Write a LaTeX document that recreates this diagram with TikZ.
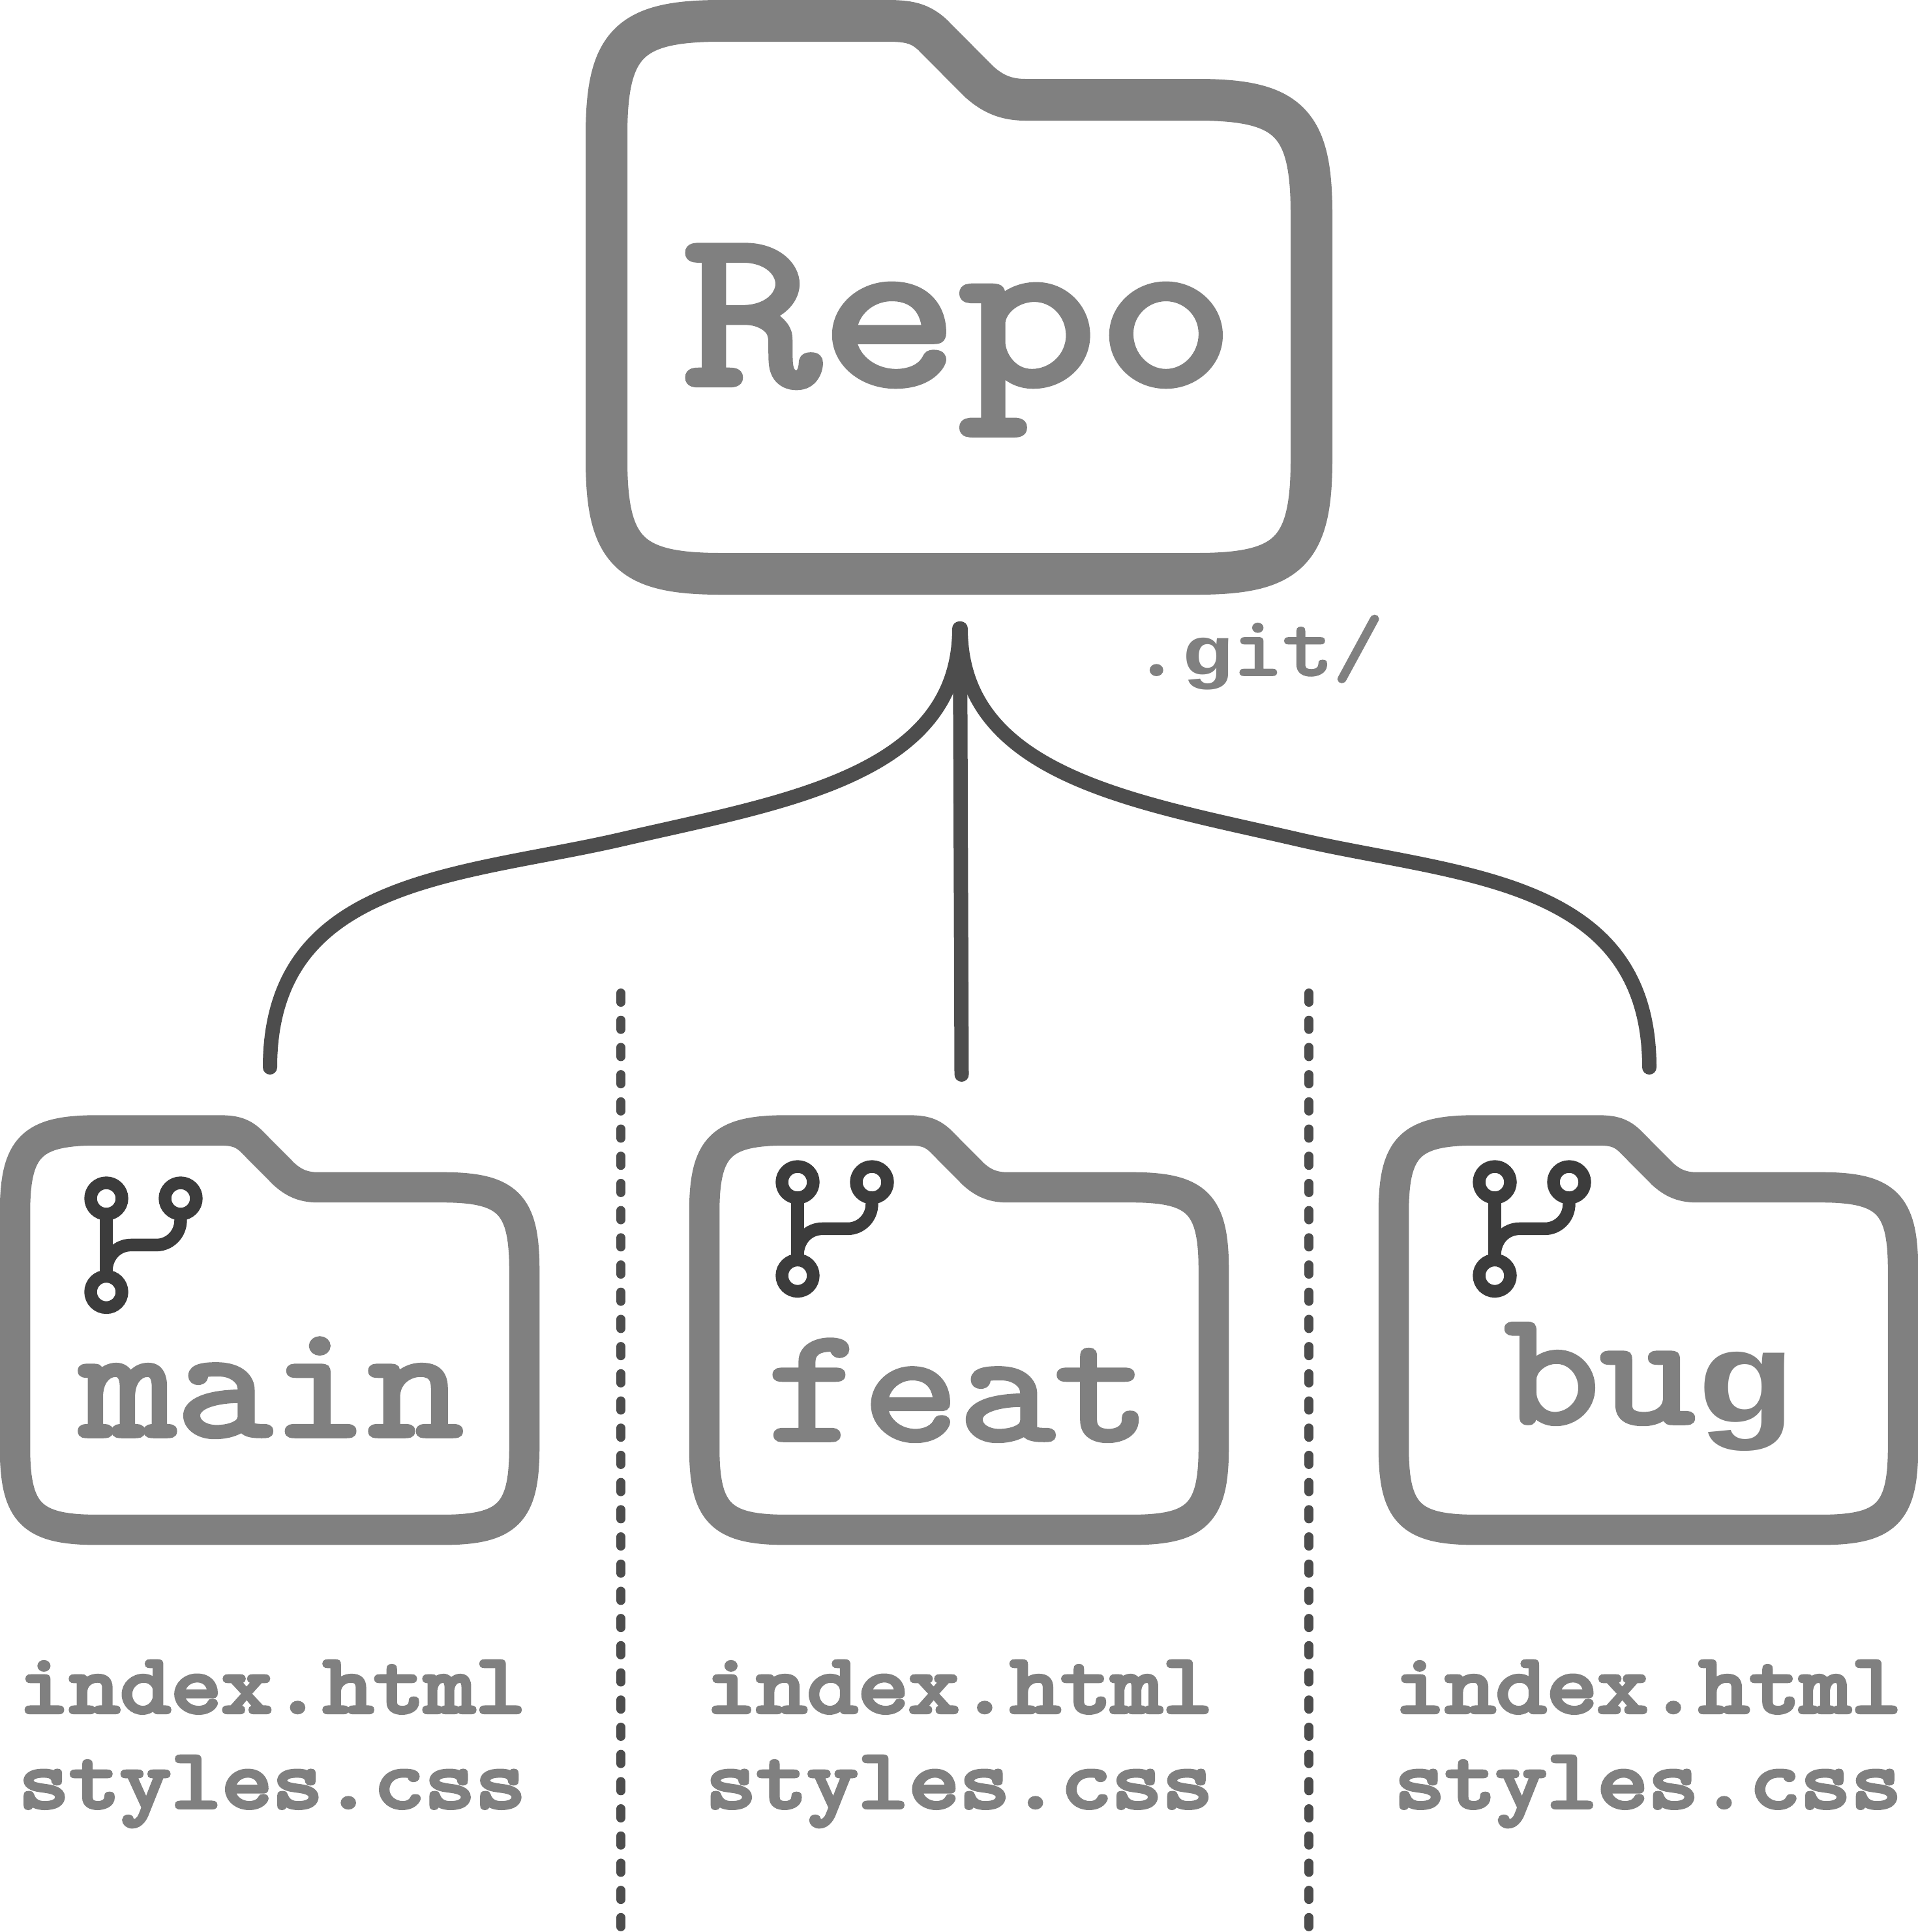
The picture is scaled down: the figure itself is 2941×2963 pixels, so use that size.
\documentclass[tikz,border=0pt]{standalone}
\usepackage{fontspec}
\newfontfamily\courA[FakeStretch=1.15,FakeBold=3]{Latin Modern Mono}
\newfontfamily\courB[FakeStretch=1.18,FakeBold=5]{Latin Modern Mono}
\newfontfamily\courC[FakeStretch=1.19,FakeBold=3]{Latin Modern Mono}
\newfontfamily\libg[Scale=0.82,FakeStretch=1.25]{Liberation Mono Bold}
\newcommand{\sg}{\makebox[0.604em]{\libg g}}
\definecolor{foldergray}{HTML}{808080}
\definecolor{linegray}{HTML}{4D4D4D}
\definecolor{icongray}{HTML}{3C3C3C}
\newcommand{\folderoutline}{(0,175) .. controls (0,35) and (35,0) .. (175,0) -- (430,0) .. controls (462,0) and (480,3) .. (500,21.5) -- (571,93) .. controls (590,110) and (610,121) .. (642,121) -- (906,121) .. controls (1046,121) and (1081,156) .. (1081,296) -- (1081,673) .. controls (1081,813) and (1046,848) .. (906,848) -- (175,848) .. controls (35,848) and (0,813) .. (0,673) -- cycle}
\tikzset{
  folderbig/.style={draw=foldergray,line width=64pt,line join=round},
  foldersmall/.style={draw=foldergray,line width=46.5pt,line join=round},
  wire/.style={draw=linegray,line width=22pt,line cap=round},
  divider/.style={draw=linegray,line width=14pt,line cap=round,dash pattern=on 14pt off 27.7pt},
  txt/.style={text=foldergray,inner sep=0pt,anchor=base},
  bigname/.style={txt,font=\courC\fontsize{346}{346}\selectfont},
  branchname/.style={txt,font=\courA\fontsize{248}{248}\selectfont},
  gitname/.style={txt,font=\courA\fontsize{130}{130}\selectfont},
  filename/.style={txt,font=\courB\fontsize{128}{128}\selectfont},
  branchicon/.pic={
    \draw[icongray,line width=19.4pt] (0,0) circle[radius=24pt] (114,0) circle[radius=24pt] (0,143.4) circle[radius=24pt];
    \draw[icongray,line width=19.4pt] (0,24) -- (0,119.4);
    \draw[icongray,line width=19.4pt] (114,24) -- (114,33) .. controls (114,56) and (96,71.4) .. (77,71.4) -- (38,71.4) .. controls (17,71.4) and (0,88) .. (0,112);
  }
}
\begin{document}
\begin{tikzpicture}[x=1pt,y=-1pt]
\useasboundingbox (0,0) rectangle (2941,2963);
% folders
\draw[folderbig,shift={(930,32)}] \folderoutline;
\draw[foldersmall,shift={(23,1733.5)},scale=0.7225] \folderoutline;
\draw[foldersmall,shift={(1080,1733.5)},scale=0.7225] \folderoutline;
\draw[foldersmall,shift={(2137,1733.5)},scale=0.7225] \folderoutline;
% labels
\node[bigname] (repo) at (1470,589) {Repo};
\node[gitname] (git) at (1928,1035) {.\sg it/};
\node[branchname] (main) at (417,2202) {main};
\node[branchname] (feat) at (1470,2208) {feat};
\node[branchname] (bug) at (2528,2182) {bu\sg};
\foreach \n/\x in {a/417.5,b/1471,c/2527}{
  \node[filename] (index\n) at (\x,2626) {index.html};
  \node[filename] (styles\n) at (\x,2772) {styles.css};
}
% icons
\pic at (163,1838) {branchicon};
\pic at (1223,1813) {branchicon};
\pic at (2292,1813) {branchicon};
% connectors
\coordinate (apexL) at (1471,964);
\coordinate (apexM) at (1472,964);
\coordinate (apexR) at (1473,964);
\coordinate (midL) at (954,1287);
\coordinate (midR) at (1989,1287);
\coordinate (endL) at (414,1637);
\coordinate (endM) at (1474.5,1648);
\coordinate (endR) at (2529,1637);
\path[wire] (apexL) .. controls (1471,1190) and (1200,1230) .. (midL) .. controls (708,1344) and (414,1345) .. (endL);
\path[wire] (apexR) .. controls (1473,1190) and (1743,1230) .. (midR) .. controls (2235,1344) and (2529,1345) .. (endR);
\path[wire] (apexM) -- (endM);
% dividers
\coordinate (d1a) at (952,1523);
\coordinate (d1b) at (952,2975);
\coordinate (d2a) at (2007,1523);
\coordinate (d2b) at (2007,2975);
\path[divider] (d1a) -- (d1b);
\path[divider] (d2a) -- (d2b);
\end{tikzpicture}
\end{document}
